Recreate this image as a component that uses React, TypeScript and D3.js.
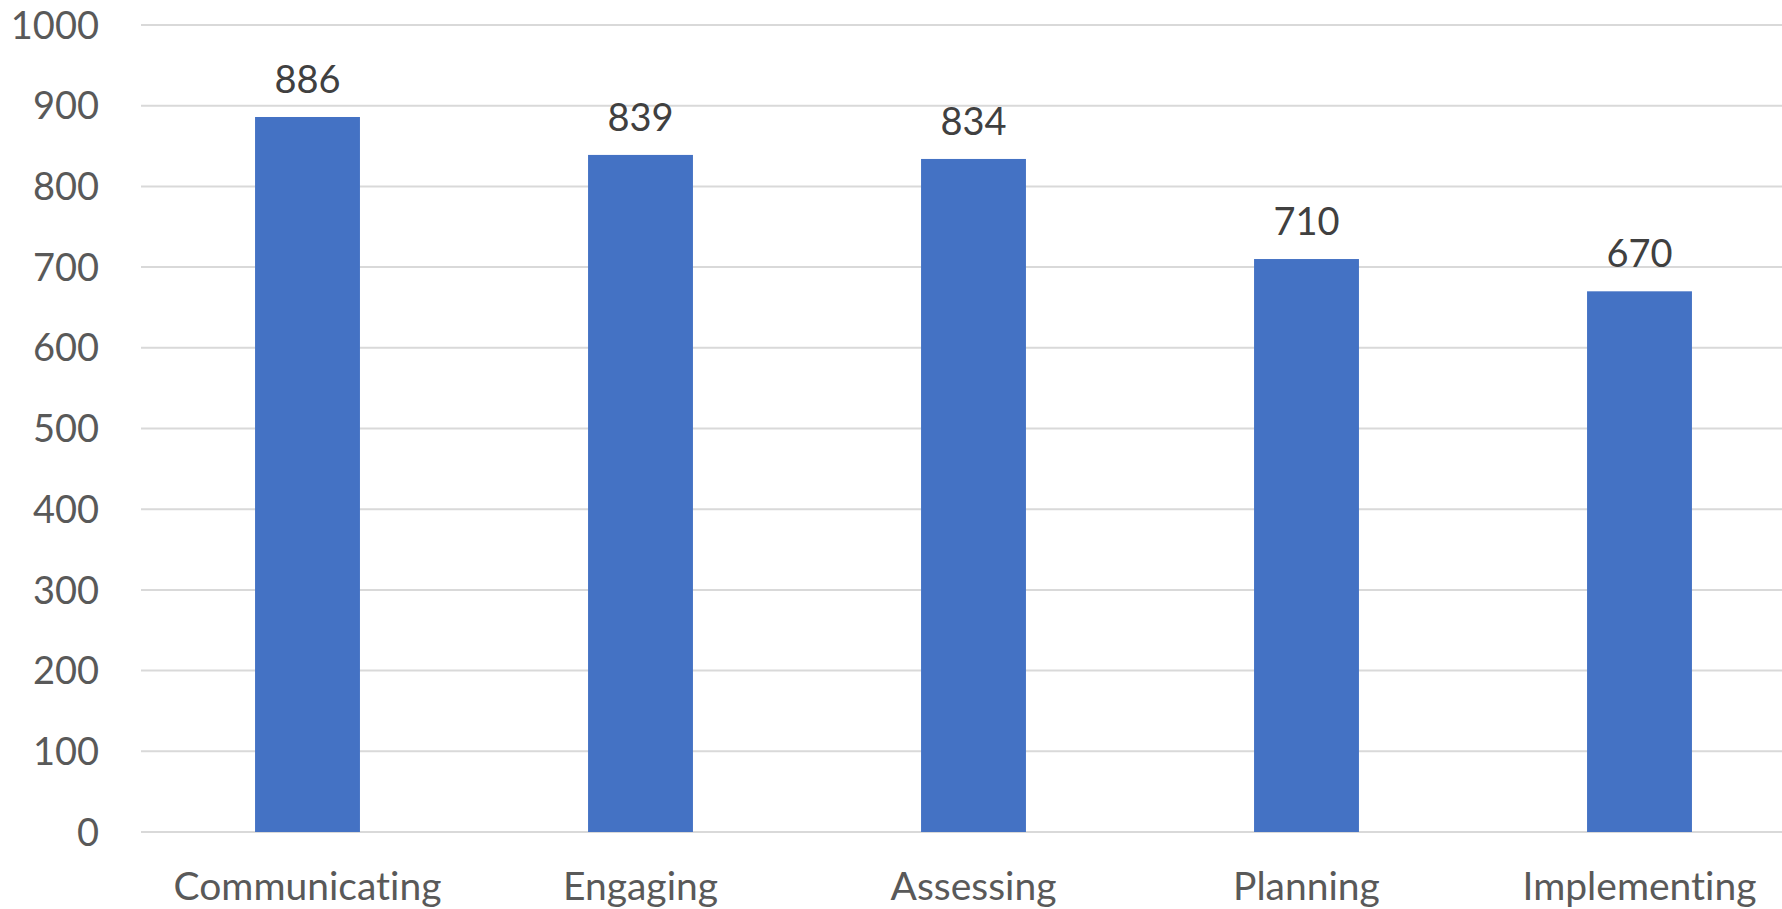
import React from "react";
import * as d3 from "d3";

const categories = ["Communicating", "Engaging", "Assessing", "Planning", "Implementing"];
const values = [886, 839, 834, 710, 670];
const yTicks = [0, 100, 200, 300, 400, 500, 600, 700, 800, 900, 1000];

const W = 1782;
const H = 909;
const FONT = "Lato, 'Open Sans', sans-serif";

export default function App() {
  const x = d3.scaleBand<string>().domain(categories).range([141, 141 + 333 * 5]).paddingInner(0.685).paddingOuter(0.3425);
  const y = d3.scaleLinear().domain([0, 1000]).range([832, 25]);
  const textStyle = { fontVariantLigatures: "none" as const };

  return (
    <div style={{ position: "absolute", left: 0, top: 0, width: W, height: H, background: "#fff" }}>
      <svg width={W} height={H} style={{ display: "block" }}>
        <rect x={0} y={0} width={W} height={H} fill="#fff" />
        {yTicks.map((t) => (
          <g key={t}>
            <line x1={141} x2={W} y1={y(t)} y2={y(t)} stroke="#D9D9D9" strokeWidth={2} />
            <text x={99} y={y(t)} dy="0.36em" textAnchor="end" fontFamily={FONT} fontSize={38} fill="#595959" style={textStyle}>
              {t}
            </text>
          </g>
        ))}
        {categories.map((c, i) => {
          const cx = (x(c) as number) + x.bandwidth() / 2;
          return (
            <g key={c}>
              <rect x={x(c)} y={y(values[i])} width={x.bandwidth()} height={y(0) - y(values[i])} fill="#4472C4" />
              <text x={cx} y={y(values[i]) - 24} textAnchor="middle" fontFamily={FONT} fontSize={38} fill="#404040" style={textStyle}>
                {values[i]}
              </text>
              <text x={cx} y={900} textAnchor="middle" fontFamily={FONT} fontSize={39} fill="#595959" style={textStyle}>
                {c}
              </text>
            </g>
          );
        })}
      </svg>
    </div>
  );
}
